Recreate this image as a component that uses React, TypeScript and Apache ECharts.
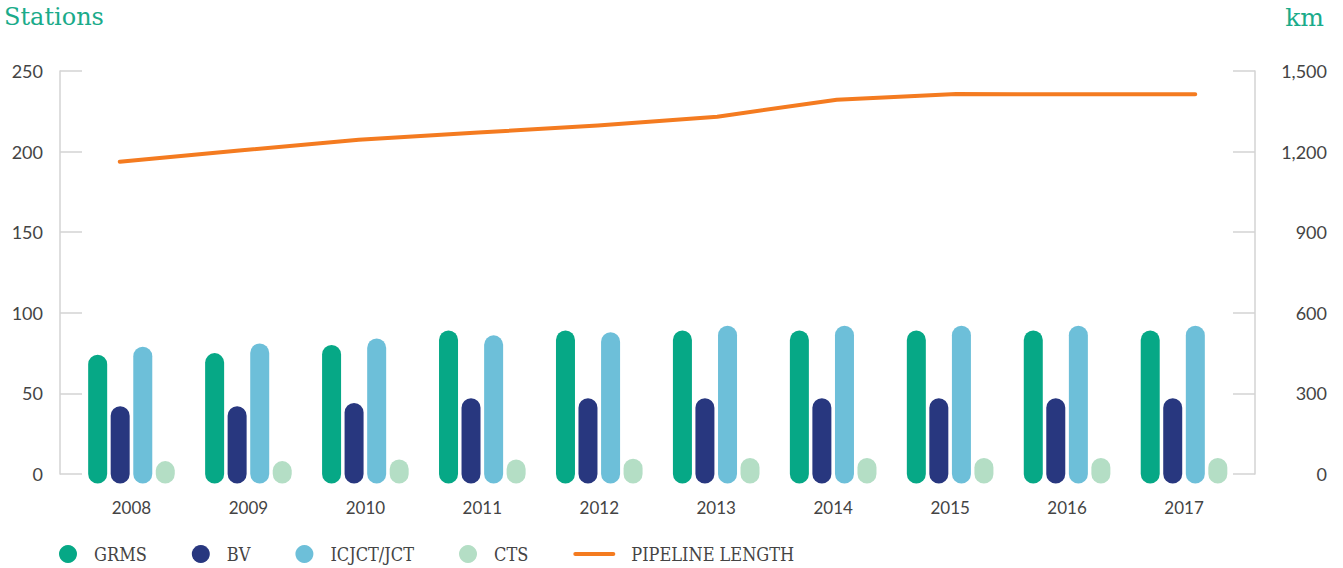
import React, { useEffect, useRef } from "react";
import * as echarts from "echarts";

const years = ["2008", "2009", "2010", "2011", "2012", "2013", "2014", "2015", "2016", "2017"];
const grms = [74, 75, 80, 89, 89, 89, 89, 89, 89, 89];
const bv = [42, 42, 44, 47, 47, 47, 47, 47, 47, 47];
const icjct = [79, 81, 84, 86, 88, 92, 92, 92, 92, 92];
const cts = [8, 8, 9, 9, 9.5, 10, 10, 10, 10, 10];
const pipelineKm = [1162, 1204, 1244, 1271, 1297, 1330, 1393, 1414, 1413, 1413];
const stationTicks = [0, 50, 100, 150, 200, 250];
const kmTicks = [0, 300, 600, 900, 1200, 1500];

const barSeries = [
  { name: "GRMS", data: grms, color: "#06A886", offset: -33.8 },
  { name: "BV", data: bv, color: "#28377F", offset: -11.3 },
  { name: "ICJCT/JCT", data: icjct, color: "#6DBFD9", offset: 11.3 },
  { name: "CTS", data: cts, color: "#B4DEC5", offset: 33.8 },
];

const BAR_W = 19;
const labelFont = "Lato, 'Open Sans', sans-serif";
const slabFont = "'DejaVu Serif Condensed', 'Liberation Serif', serif";

export default function App() {
  const ref = useRef<HTMLDivElement>(null);
  useEffect(() => {
    if (!ref.current) return;
    const chart = echarts.init(ref.current, undefined, { renderer: "svg" });
    const customSeries = barSeries.map((s) => ({
      name: s.name,
      type: "custom",
      xAxisIndex: 0,
      yAxisIndex: 2,
      itemStyle: { color: s.color },
      encode: { x: 0, y: 1 },
      data: s.data.map((v, i) => [i, v]),
      renderItem: (params: any, api: any) => {
        const top = api.coord([api.value(0), api.value(1)]);
        const base = api.coord([api.value(0), 0]);
        const r = BAR_W / 2;
        const x = top[0] + s.offset - r;
        return {
          type: "rect",
          shape: { x, y: top[1], width: BAR_W, height: base[1] + r - top[1], r },
          style: { fill: s.color },
        };
      },
    }));
    chart.setOption({
      animation: false,
      backgroundColor: "#ffffff",
      title: [
        {
          text: "Stations",
          left: -1,
          top: 0,
          textStyle: { fontFamily: "'DejaVu Serif', serif", fontWeight: "normal", fontSize: 24, color: "#1AAB8A" },
        },
        {
          text: "km",
          right: 14,
          top: 0,
          textStyle: { fontFamily: "'DejaVu Serif', serif", fontWeight: "normal", fontSize: 25, color: "#1AAB8A" },
        },
      ],
      legend: {
        left: 54,
        top: 540,
        itemWidth: 42,
        itemHeight: 18,
        itemGap: 45,
        symbolKeepAspect: true,
        textStyle: { fontFamily: slabFont, fontSize: 18, color: "#444444" },
        data: [
          { name: "GRMS", icon: "circle" },
          { name: "BV", icon: "circle" },
          { name: "ICJCT/JCT", icon: "circle" },
          { name: "CTS", icon: "circle", textStyle: { padding: [0, 2, 0, 0] } },
          {
            name: "PIPELINE LENGTH",
            icon: "path://M2,0h38a2,2 0 0 1 0,4h-38a2,2 0 0 1 0,-4z",
            textStyle: { padding: [0, 0, 0, 11] },
          },
        ],
      },
      grid: [
        { left: 60, right: 88, top: 71, bottom: 94 },
        { left: 73, right: 100.5, top: 71, bottom: 94 },
      ],
      xAxis: [
        {
          type: "category",
          gridIndex: 1,
          data: years,
          axisLine: { show: false },
          axisTick: { show: false },
          axisLabel: { margin: 25, fontFamily: labelFont, fontSize: 17, color: "#444444" },
        },
        {
          type: "category",
          gridIndex: 0,
          data: years,
          show: false,
        },
      ],
      yAxis: [
        {
          type: "value",
          gridIndex: 0,
          position: "left",
          min: stationTicks[0],
          max: stationTicks[stationTicks.length - 1],
          interval: 50,
          splitLine: { show: false },
          axisLine: { show: true, lineStyle: { color: "#D3D3D3", width: 1.5 } },
          axisTick: { show: true, inside: true, length: 22, lineStyle: { color: "#D3D3D3", width: 1.5 } },
          axisLabel: { margin: 17, fontFamily: labelFont, fontSize: 18, color: "#444444" },
        },
        {
          type: "value",
          gridIndex: 0,
          position: "right",
          min: kmTicks[0],
          max: kmTicks[kmTicks.length - 1],
          interval: 300,
          splitLine: { show: false },
          axisLine: { show: true, lineStyle: { color: "#D3D3D3", width: 1.5 } },
          axisTick: { show: true, inside: true, length: 22, lineStyle: { color: "#D3D3D3", width: 1.5 } },
          axisLabel: {
            margin: 72,
            align: "right",
            fontFamily: labelFont,
            fontSize: 18,
            color: "#444444",
            formatter: (v: number) => v.toLocaleString("en-US"),
          },
        },
        {
          type: "value",
          gridIndex: 1,
          min: stationTicks[0],
          max: stationTicks[stationTicks.length - 1],
          show: false,
        },
      ],
      series: [
        ...customSeries,
        {
          name: "PIPELINE LENGTH",
          type: "line",
          xAxisIndex: 1,
          yAxisIndex: 1,
          data: pipelineKm,
          symbol: "none",
          z: 5,
          lineStyle: { color: "#F47B20", width: 4, cap: "round", join: "round" },
          itemStyle: { color: "#F47B20" },
        },
      ],
    });
    return () => chart.dispose();
  }, []);
  return (
    <div
      ref={ref}
      style={{ position: "absolute", left: 0, top: 0, width: 1343, height: 568 }}
    />
  );
}
